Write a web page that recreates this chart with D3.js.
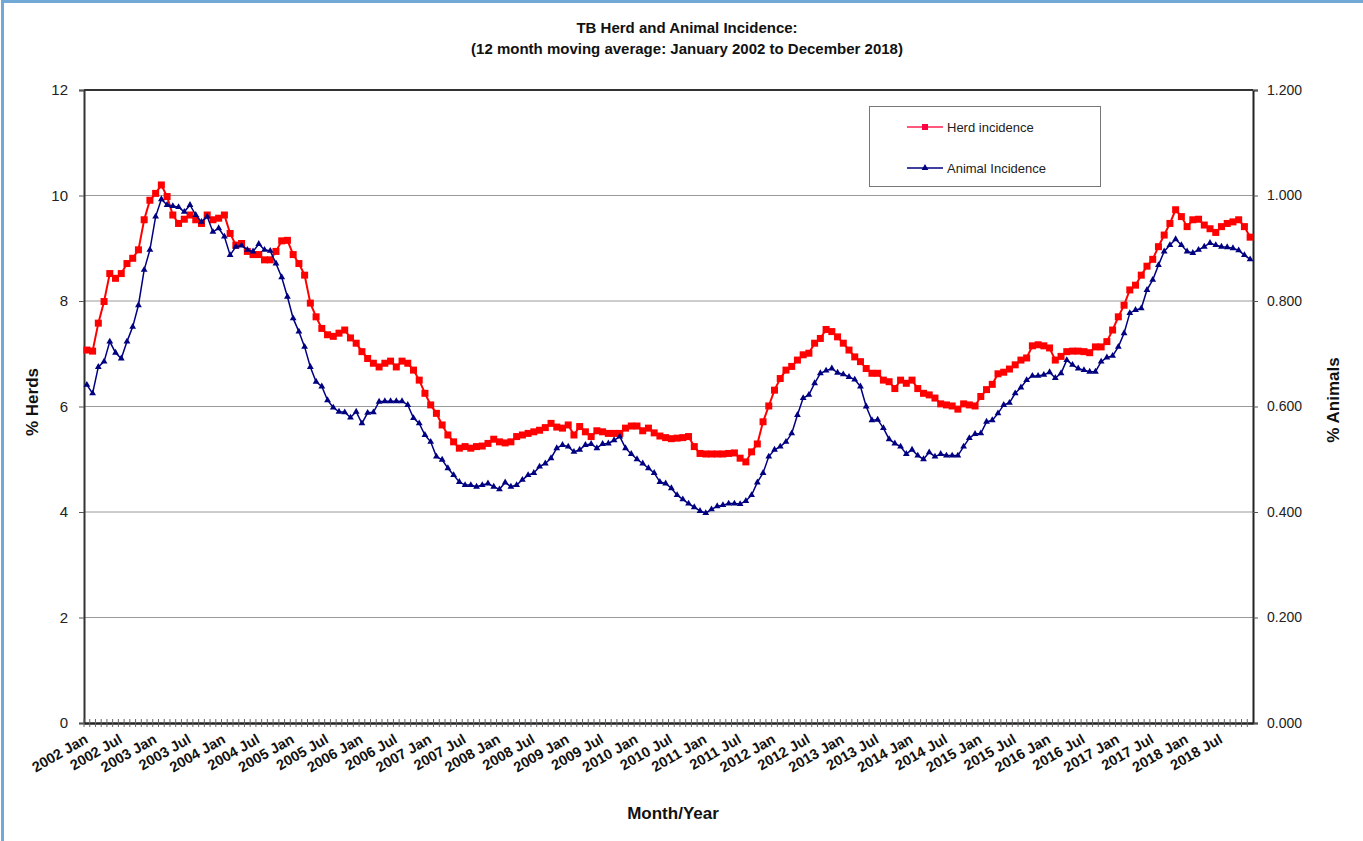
<!DOCTYPE html>
<html>
<head>
<meta charset="utf-8">
<script src="https://cdn.jsdelivr.net/npm/d3@7"></script>
<style>
  html, body { margin: 0; padding: 0; background: #fff; }
  svg { display: block; font-family: Arial, "Liberation Sans", sans-serif; }
</style>
</head>
<body>
<svg id="chart" width="1363" height="841"></svg>
<script>
// categories: one per month, Jan 2002 .. Dec 2018
const years = d3.range(2002, 2019);
const monthNames = ["Jan","Feb","Mar","Apr","May","Jun","Jul","Aug","Sep","Oct","Nov","Dec"];
const months = years.flatMap(y => monthNames.map(m => `${y} ${m}`));

// % herds (left axis)
const herdIncidence = [
  7.07, 7.05, 7.58, 7.99, 8.52, 8.43, 8.52, 8.71, 8.81, 8.97, 9.54, 9.91,
  10.04, 10.2, 9.98, 9.63, 9.47, 9.55, 9.63, 9.54, 9.47, 9.63, 9.54, 9.57,
  9.63, 9.28, 9.06, 9.09, 8.94, 8.88, 8.88, 8.78, 8.78, 8.94, 9.14, 9.15,
  8.88, 8.71, 8.49, 7.96, 7.70, 7.48, 7.36, 7.33, 7.39, 7.45, 7.30, 7.20,
  7.04, 6.91, 6.82, 6.75, 6.82, 6.86, 6.75, 6.86, 6.82, 6.69, 6.50, 6.25,
  6.03, 5.87, 5.65, 5.46, 5.33, 5.21, 5.24, 5.21, 5.24, 5.25, 5.30, 5.38,
  5.33, 5.31, 5.33, 5.43, 5.46, 5.49, 5.52, 5.55, 5.60, 5.68, 5.61, 5.59,
  5.65, 5.46, 5.62, 5.52, 5.43, 5.54, 5.52, 5.49, 5.49, 5.49, 5.59, 5.63,
  5.63, 5.54, 5.59, 5.50, 5.44, 5.41, 5.39, 5.40, 5.41, 5.43, 5.24, 5.11,
  5.10, 5.10, 5.10, 5.10, 5.11, 5.12, 5.02, 4.95, 5.14, 5.29, 5.71, 6.01,
  6.31, 6.53, 6.69, 6.76, 6.88, 6.98, 7.01, 7.20, 7.29, 7.46, 7.42, 7.32,
  7.20, 7.07, 6.94, 6.85, 6.72, 6.63, 6.63, 6.50, 6.47, 6.34, 6.50, 6.44,
  6.50, 6.34, 6.25, 6.22, 6.16, 6.05, 6.03, 6.01, 5.95, 6.05, 6.03, 6.01,
  6.19, 6.32, 6.42, 6.62, 6.65, 6.71, 6.79, 6.88, 6.92, 7.15, 7.17, 7.15,
  7.11, 6.88, 6.95, 7.04, 7.05, 7.05, 7.04, 7.02, 7.13, 7.13, 7.23, 7.45,
  7.70, 7.92, 8.21, 8.30, 8.49, 8.66, 8.79, 9.03, 9.25, 9.47, 9.73, 9.60,
  9.41, 9.54, 9.55, 9.44, 9.37, 9.30, 9.41, 9.47, 9.50, 9.54, 9.41, 9.21
];

// % animals (right axis)
const animalIncidence = [
  0.641, 0.625, 0.675, 0.685, 0.723, 0.702, 0.691, 0.723, 0.751, 0.792, 0.859, 0.897,
  0.960, 0.993, 0.982, 0.980, 0.978, 0.969, 0.982, 0.963, 0.950, 0.960, 0.931, 0.938,
  0.922, 0.887, 0.903, 0.905, 0.897, 0.894, 0.908, 0.897, 0.895, 0.871, 0.845, 0.808,
  0.767, 0.742, 0.713, 0.675, 0.647, 0.638, 0.612, 0.598, 0.590, 0.589, 0.579, 0.590,
  0.568, 0.588, 0.589, 0.609, 0.610, 0.610, 0.610, 0.610, 0.603, 0.578, 0.568, 0.546,
  0.533, 0.505, 0.499, 0.483, 0.470, 0.457, 0.451, 0.451, 0.448, 0.451, 0.454, 0.448,
  0.443, 0.456, 0.448, 0.451, 0.461, 0.470, 0.474, 0.486, 0.492, 0.502, 0.521, 0.527,
  0.524, 0.514, 0.518, 0.527, 0.529, 0.521, 0.529, 0.530, 0.536, 0.543, 0.521, 0.510,
  0.500, 0.492, 0.483, 0.474, 0.457, 0.454, 0.445, 0.432, 0.424, 0.416, 0.409, 0.402,
  0.398, 0.405, 0.411, 0.413, 0.416, 0.416, 0.415, 0.421, 0.432, 0.456, 0.474, 0.505,
  0.518, 0.524, 0.533, 0.549, 0.584, 0.616, 0.622, 0.644, 0.663, 0.668, 0.672, 0.664,
  0.661, 0.656, 0.651, 0.638, 0.600, 0.574, 0.575, 0.559, 0.538, 0.530, 0.524, 0.510,
  0.518, 0.507, 0.500, 0.513, 0.505, 0.510, 0.507, 0.507, 0.507, 0.524, 0.540, 0.548,
  0.549, 0.571, 0.574, 0.587, 0.603, 0.607, 0.625, 0.636, 0.650, 0.658, 0.658, 0.660,
  0.665, 0.654, 0.663, 0.688, 0.679, 0.672, 0.669, 0.666, 0.666, 0.685, 0.693, 0.696,
  0.713, 0.739, 0.777, 0.783, 0.786, 0.821, 0.840, 0.868, 0.894, 0.906, 0.917, 0.906,
  0.894, 0.891, 0.897, 0.903, 0.910, 0.906, 0.903, 0.902, 0.900, 0.896, 0.887, 0.879
];

const herdTicks = [0, 2, 4, 6, 8, 10, 12];
const animalTicks = [0, 0.2, 0.4, 0.6, 0.8, 1.0, 1.2];
const xTickLabels = months.filter(m => m.endsWith("Jan") || m.endsWith("Jul"));

const svg = d3.select("#chart");
const L = 84, R = 1253, T = 90, B = 723;

// blue frame round the picture
svg.append("rect")
  .attr("x", 2.5).attr("y", 1.5).attr("width", 1362).attr("height", 860)
  .attr("fill", "none").attr("stroke", "#72a8d6").attr("stroke-width", 3);

const x = d3.scaleBand().domain(months).range([L, R]).paddingInner(0).paddingOuter(0);
const xc = m => x(m) + x.bandwidth() / 2;
const yL = d3.scaleLinear().domain([0, 12]).range([B, T]);
const yR = d3.scaleLinear().domain([0, 1.2]).range([B, T]);

// gridlines
svg.append("g")
  .selectAll("line")
  .data(herdTicks.filter(d => d > 0 && d < 12))
  .enter().append("line")
  .attr("x1", L).attr("x2", R)
  .attr("y1", d => yL(d)).attr("y2", d => yL(d))
  .attr("stroke", "#9a9a9a").attr("stroke-width", 1);

// left axis
const leftAxis = svg.append("g")
  .attr("transform", `translate(${L},0)`)
  .call(d3.axisLeft(yL).tickValues(herdTicks).tickFormat(d3.format("d")).tickSize(5).tickPadding(11));
leftAxis.select(".domain").attr("stroke", "#333").attr("stroke-width", 2);
leftAxis.selectAll("line").attr("stroke", "#555");
leftAxis.selectAll("text").attr("font-size", 15).attr("fill", "#222")
  .attr("font-family", "Arial, 'Liberation Sans', sans-serif");

// right axis
const rightAxis = svg.append("g")
  .attr("transform", `translate(${R},0)`)
  .call(d3.axisRight(yR).tickValues(animalTicks).tickFormat(d3.format(".3f")).tickSize(5).tickPadding(9));
rightAxis.select(".domain").attr("stroke", "#222").attr("stroke-width", 2);
rightAxis.selectAll("line").attr("stroke", "#555");
rightAxis.selectAll("text").attr("font-size", 14).attr("fill", "#222")
  .attr("font-family", "Arial, 'Liberation Sans', sans-serif");

// top border
svg.append("line")
  .attr("x1", L).attr("x2", R).attr("y1", T).attr("y2", T)
  .attr("stroke", "#333").attr("stroke-width", 2);

// bottom axis: month ticks, labels every 6 months
const bottomAxis = svg.append("g")
  .attr("transform", `translate(0,${B})`)
  .call(d3.axisBottom(x).tickValues(xTickLabels).tickSize(0).tickFormat(""));
bottomAxis.select(".domain").attr("stroke", "#222").attr("stroke-width", 2.5);

svg.append("g")
  .selectAll("line")
  .data(months)
  .enter().append("line")
  .attr("x1", d => x(d)).attr("x2", d => x(d))
  .attr("y1", B - 4).attr("y2", B + 4)
  .attr("stroke", "#666").attr("stroke-width", 1);

svg.append("g")
  .selectAll("text")
  .data(xTickLabels)
  .enter().append("text")
  .attr("transform", d => `translate(${xc(d) + 2},${B + 19}) rotate(-30)`)
  .attr("text-anchor", "end")
  .attr("font-size", 14.5)
  .attr("font-weight", "bold")
  .attr("fill", "#111")
  .text(d => d);

// lines
const herdLine = d3.line().x((d, i) => xc(months[i])).y(d => yL(d));
const animalLine = d3.line().x((d, i) => xc(months[i])).y(d => yR(d));

svg.append("path")
  .datum(herdIncidence)
  .attr("d", herdLine)
  .attr("fill", "none").attr("stroke", "#ff0000").attr("stroke-width", 2);

svg.append("g")
  .selectAll("rect")
  .data(herdIncidence)
  .enter().append("rect")
  .attr("x", (d, i) => xc(months[i]) - 3.5).attr("y", d => yL(d) - 3.5)
  .attr("width", 7).attr("height", 7)
  .attr("fill", "#ff0000");

svg.append("path")
  .datum(animalIncidence)
  .attr("d", animalLine)
  .attr("fill", "none").attr("stroke", "#000080").attr("stroke-width", 1.5);

const tri = d3.symbol().type(d3.symbolTriangle).size(20);
svg.append("g")
  .selectAll("path")
  .data(animalIncidence)
  .enter().append("path")
  .attr("d", tri)
  .attr("transform", (d, i) => `translate(${xc(months[i])},${yR(d)})`)
  .attr("fill", "#000080");

// legend
const lg = svg.append("g");
lg.append("rect")
  .attr("x", 869.5).attr("y", 106.5).attr("width", 231).attr("height", 80)
  .attr("fill", "#fff").attr("stroke", "#777").attr("stroke-width", 1);
lg.append("line").attr("x1", 907).attr("x2", 943).attr("y1", 127).attr("y2", 127)
  .attr("stroke", "#ff2050").attr("stroke-width", 1.5);
lg.append("rect").attr("x", 922).attr("y", 124).attr("width", 6).attr("height", 6).attr("fill", "#ff0040");
lg.append("text").attr("x", 947).attr("y", 132).attr("font-size", 13).attr("fill", "#222").text("Herd incidence");
lg.append("line").attr("x1", 907).attr("x2", 943).attr("y1", 168).attr("y2", 168)
  .attr("stroke", "#000080").attr("stroke-width", 1.5);
lg.append("path").attr("d", tri).attr("transform", "translate(925,168)").attr("fill", "#000080");
lg.append("text").attr("x", 947).attr("y", 173).attr("font-size", 13).attr("fill", "#222").text("Animal Incidence");

// titles
svg.append("text").attr("x", 687).attr("y", 33).attr("text-anchor", "middle")
  .attr("font-size", 15).attr("font-weight", "bold").attr("fill", "#111")
  .text("TB Herd and Animal Incidence:");
svg.append("text").attr("x", 687).attr("y", 54).attr("text-anchor", "middle")
  .attr("font-size", 15).attr("font-weight", "bold").attr("fill", "#111")
  .text("(12 month moving average: January 2002 to December 2018)");

svg.append("text").attr("transform", "translate(38,402) rotate(-90)").attr("text-anchor", "middle")
  .attr("font-size", 17).attr("font-weight", "bold").attr("fill", "#111").text("% Herds");
svg.append("text").attr("transform", "translate(1339,400) rotate(-90)").attr("text-anchor", "middle")
  .attr("font-size", 17).attr("font-weight", "bold").attr("fill", "#111").text("% Animals");
svg.append("text").attr("x", 673).attr("y", 819).attr("text-anchor", "middle")
  .attr("font-size", 17).attr("font-weight", "bold").attr("fill", "#111").text("Month/Year");
</script>
</body>
</html>
